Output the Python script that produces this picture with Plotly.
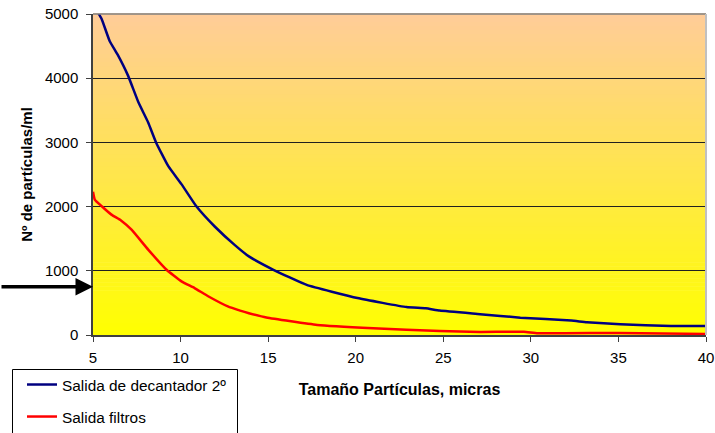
import plotly.graph_objects as go

# ---- data ----
x_decantador = [5.0, 5.3, 5.5, 5.95, 6.4, 7.0, 7.6, 8.15, 8.6, 9.3, 10.05, 10.9, 11.95, 13.1,
                13.9, 15.3, 17.2, 20.1, 22.9, 24.0, 24.8, 27.1, 29.4, 32.3, 33.2, 35.1, 38.0, 40.0]
y_decantador = [5550, 5020, 4920, 4580, 4370, 4040, 3620, 3310, 3000, 2630, 2350, 2005, 1690, 1400,
                1225, 1016, 780, 575, 435, 415, 380, 325, 270, 225, 198, 167, 140, 140]

x_filtros = [5.0, 5.1, 5.5, 6.05, 6.6, 7.2, 8.15, 9.2, 10.05, 10.8, 11.6, 12.7, 13.4, 13.9,
             14.9, 17.8, 21.0, 24.8, 27.1, 29.6, 30.4, 35.0, 40.0]
y_filtros = [2230, 2110, 2005, 1875, 1785, 1640, 1330, 1016, 835, 730, 600, 445, 380, 340,
             272, 156, 104, 62, 48, 50, 28, 32, 16]

series_names = ["Salida de decantador 2º", "Salida filtros"]
x_ticks = [5, 10, 15, 20, 25, 30, 35, 40]
y_ticks = [0, 1000, 2000, 3000, 4000, 5000]
x_title = "Tamaño Partículas, micras"
y_title = "Nº de partículas/ml"
arrow_y = 750

FONT = "Liberation Sans, Arial, sans-serif"
PW, PH, ML, MT = 613, 321, 93, 14  # plot area size / margins in px


def px_x(p):
    return (p - ML) / PW


def px_y(p):
    return (MT + PH - p) / PH


fig = go.Figure()
fig.add_trace(go.Scatter(x=x_decantador, y=y_decantador, mode="lines", name=series_names[0],
                         line=dict(color="#000080", width=2.5, shape="spline", smoothing=0.4),
                         legendgroup="a"))
fig.add_trace(go.Scatter(x=x_filtros, y=y_filtros, mode="lines", name=series_names[1],
                         line=dict(color="#FF0000", width=2.5, shape="spline", smoothing=0.4),
                         legendgroup="b"))

# gradient background: tan (top) -> yellow (bottom)
top = (255, 204, 153)
bot = (255, 255, 0)
n = 80
shapes = []
for i in range(n):
    t = (i + 0.5) / n  # 0 bottom -> 1 top
    c = tuple(round(bot[k] + (top[k] - bot[k]) * t) for k in range(3))
    shapes.append(dict(type="rect", xref="paper", yref="paper", x0=0, x1=1,
                       y0=i / n, y1=(i + 1) / n + 0.002, fillcolor="rgb(%d,%d,%d)" % c,
                       line=dict(width=0), layer="below"))
# top and right borders
shapes.append(dict(type="line", xref="paper", yref="paper", x0=0, x1=1, y0=1, y1=1,
                   line=dict(color="#808080", width=1.5)))
shapes.append(dict(type="line", xref="paper", yref="paper", x0=1, x1=1, y0=0, y1=1,
                   line=dict(color="#C0C0C0", width=2)))
# legend frame (extends past the bottom edge like the reference)
shapes.append(dict(type="rect", xref="paper", yref="paper", x0=px_x(12.5), x1=px_x(237.5),
                   y0=px_y(445), y1=px_y(369.5), fillcolor="white",
                   line=dict(color="black", width=1), layer="above"))

fig.update_layout(
    width=715, height=433,
    margin=dict(l=ML, r=715 - ML - PW, t=MT, b=433 - MT - PH, autoexpand=False),
    paper_bgcolor="white", plot_bgcolor="rgba(0,0,0,0)",
    font=dict(family=FONT, size=15, color="black"),
    shapes=shapes,
    showlegend=True,
    legend=dict(x=px_x(22), y=px_y(368), xanchor="left", yanchor="top",
                bgcolor="rgba(0,0,0,0)", borderwidth=0,
                font=dict(size=15.4), itemwidth=30, tracegroupgap=9),
    xaxis=dict(range=[5, 40], tickvals=x_ticks, ticks="outside", ticklen=5, tickcolor="#404040",
               showline=True, linecolor="#404040", linewidth=1.5, showgrid=False, zeroline=False,
               automargin=False, ticklabelstandoff=3,
               title=dict(text="<b>" + x_title + "</b>", font=dict(size=16), standoff=19)),
    yaxis=dict(range=[0, 5000], tickvals=y_ticks, ticks="outside", ticklen=5, tickcolor="#404040",
               showline=True, linecolor="#404040", linewidth=1.5, showgrid=True,
               gridcolor="#202020", gridwidth=1, zeroline=False, automargin=False,
               ticklabelstandoff=5,
               title=dict(text="<b>" + y_title + "</b>", font=dict(size=15), standoff=9)),
)

fig.add_annotation(x=5, y=arrow_y, xref="x", yref="y", ax=-95, ay=0, axref="pixel", ayref="pixel",
                   text="", showarrow=True, arrowhead=2, arrowsize=1, arrowwidth=3.5,
                   arrowcolor="black")

fig.write_html("out.html", config={"displayModeBar": False},
               post_script="document.body.style.margin='0';")
